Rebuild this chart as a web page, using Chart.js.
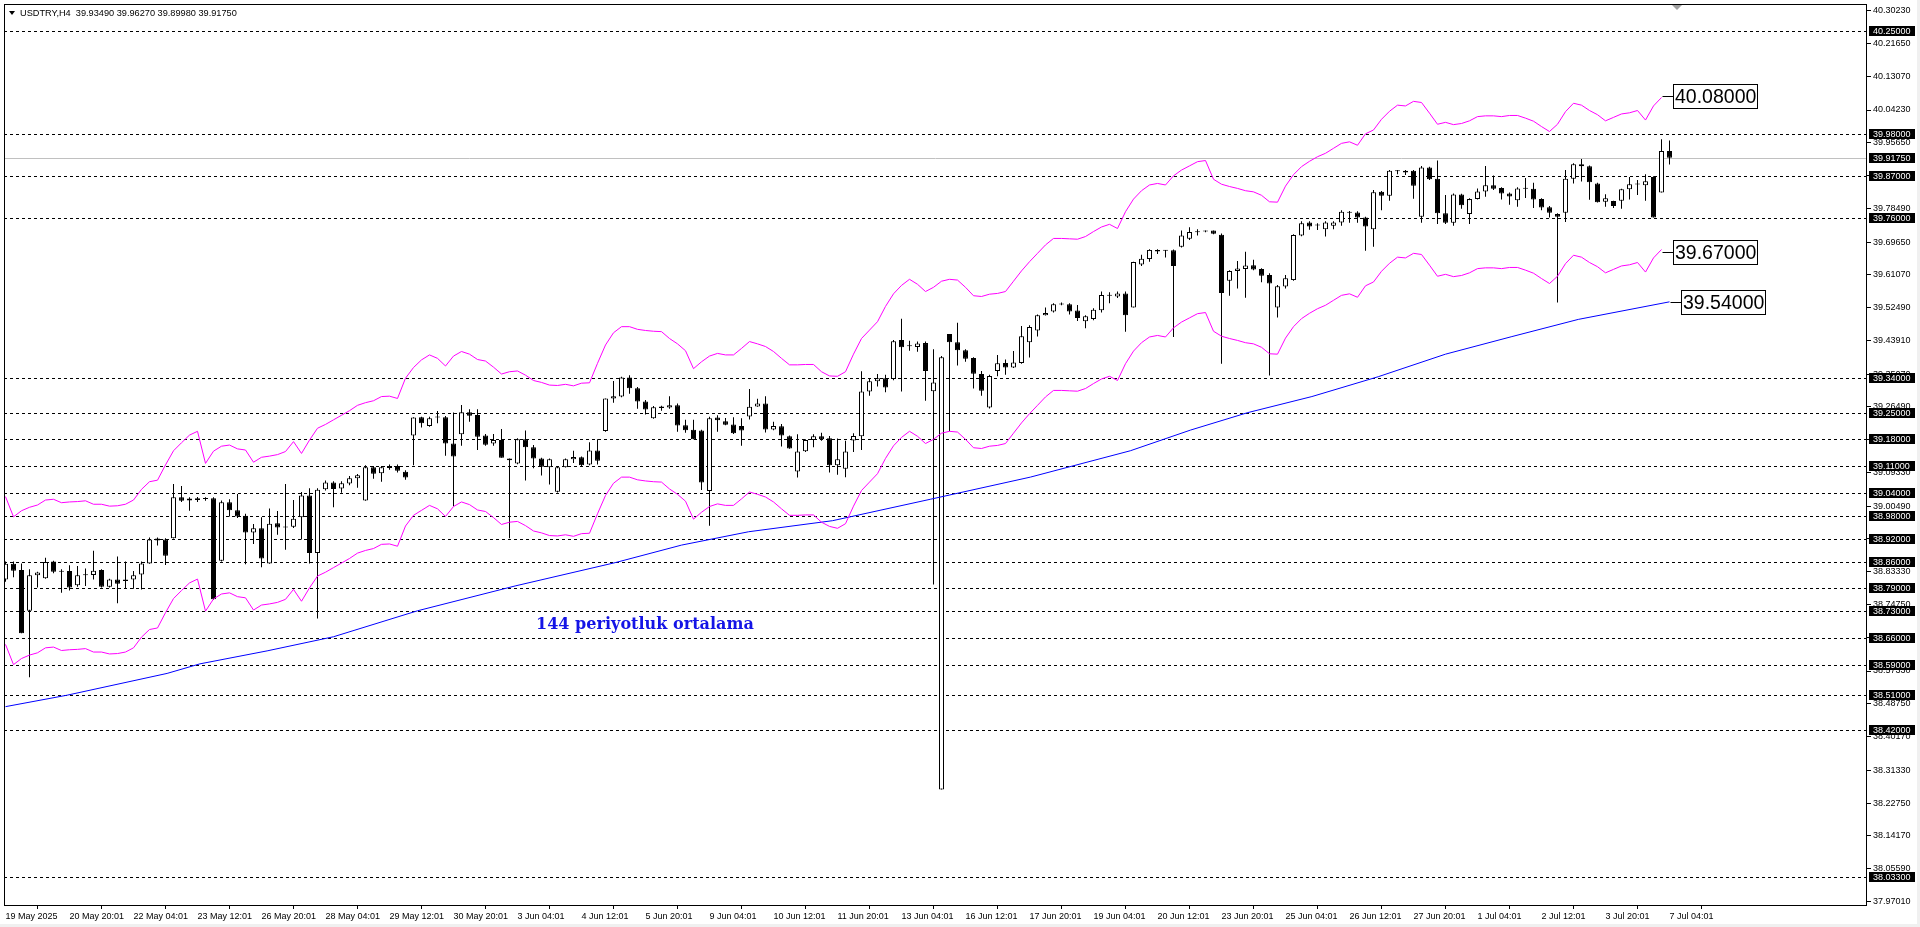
<!DOCTYPE html>
<html>
<head>
<meta charset="utf-8">
<title>USDTRY,H4</title>
<script src="https://cdn.jsdelivr.net/npm/chart.js@4.4.1/dist/chart.umd.min.js"></script>
<style>
  html, body { margin: 0; padding: 0; background: #fff; overflow: hidden; }
  #wrap { position: relative; width: 1920px; height: 927px; }
</style>
</head>
<body>
<div id="wrap"><canvas id="chart" width="1920" height="927"></canvas></div>
<script>
// USDTRY H4, 19 May 12:01 .. 7 Jul 04:01 (bar index 0..208)
const symbol = 'USDTRY,H4';

const xTickLabels = ['19 May 2025', '20 May 20:01', '22 May 04:01', '23 May 12:01', '26 May 20:01', '28 May 04:01',
    '29 May 12:01', '30 May 20:01', '3 Jun 04:01', '4 Jun 12:01', '5 Jun 20:01', '9 Jun 04:01', '10 Jun 12:01',
    '11 Jun 20:01', '13 Jun 04:01', '16 Jun 12:01', '17 Jun 20:01', '19 Jun 04:01', '20 Jun 12:01', '23 Jun 20:01',
    '25 Jun 04:01', '26 Jun 12:01', '27 Jun 20:01', '1 Jul 04:01', '2 Jul 12:01', '3 Jul 20:01', '7 Jul 04:01'];
const barsPerTick = 8;

const opens = [38.813, 38.854, 38.838, 38.731, 38.824, 38.816, 38.860, 38.835, 38.835, 38.798,
    38.824, 38.825, 38.838, 38.794, 38.813, 38.809, 38.813, 38.826, 38.855, 38.920,
    38.918, 38.921, 39.028, 39.025, 39.026, 39.024, 39.026, 38.862, 39.015, 38.994,
    38.980, 38.936, 38.947, 38.855, 38.960, 38.952, 38.951, 38.976, 39.033, 38.882,
    39.049, 39.067, 39.051, 39.064, 39.078, 39.020, 39.107, 39.091, 39.110, 39.110,
    39.095, 39.190, 39.238, 39.215, 39.237, 39.238, 39.169, 39.193, 39.251, 39.244,
    39.190, 39.169, 39.178, 39.130, 39.117, 39.180, 39.159, 39.130, 39.107, 39.043,
    39.107, 39.128, 39.133, 39.114, 39.151, 39.202, 39.287, 39.292, 39.342, 39.314,
    39.279, 39.235, 39.266, 39.263, 39.269, 39.217, 39.205, 39.203, 39.045, 39.237,
    39.227, 39.219, 39.215, 39.240, 39.266, 39.274, 39.206, 39.214, 39.188, 39.096,
    39.149, 39.178, 39.188, 39.183, 39.112, 39.103, 39.177, 39.188, 39.305, 39.332,
    39.340, 39.338, 39.440, 39.426, 39.422, 39.432, 39.306, 38.263, 39.456, 39.434,
    39.413, 39.393, 39.351, 39.263, 39.359, 39.380, 39.368, 39.380, 39.434, 39.465,
    39.505, 39.515, 39.533, 39.534, 39.517, 39.489, 39.495, 39.518, 39.558, 39.554,
    39.562, 39.525, 39.638, 39.652, 39.676, 39.675, 39.675, 39.684, 39.705, 39.724,
    39.726, 39.727, 39.716, 39.595, 39.621, 39.626, 39.636, 39.626, 39.610, 39.525,
    39.580, 39.597, 39.714, 39.748, 39.740, 39.730, 39.739, 39.748, 39.776, 39.774,
    39.761, 39.730, 39.828, 39.818, 39.882, 39.883, 39.883, 39.763, 39.892, 39.862,
    39.772, 39.747, 39.821, 39.770, 39.809, 39.829, 39.845, 39.838, 39.824, 39.806,
    39.837, 39.836, 39.809, 39.788, 39.770, 39.773, 39.862, 39.900, 39.895, 39.850,
    39.802, 39.804, 39.805, 39.835, 39.847, 39.845, 39.867, 39.826, 39.9349];

const highs = [38.860, 38.860, 38.855, 38.840, 38.833, 38.870, 38.862, 38.840, 38.850, 38.848,
    38.842, 38.888, 38.840, 38.815, 38.873, 38.860, 38.835, 38.860, 38.923, 38.923,
    38.921, 39.063, 39.058, 39.028, 39.029, 39.028, 39.028, 39.020, 39.023, 39.037,
    38.985, 38.958, 38.976, 38.999, 38.992, 39.063, 39.021, 39.042, 39.052, 39.052,
    39.072, 39.070, 39.070, 39.084, 39.089, 39.112, 39.110, 39.110, 39.114, 39.114,
    39.099, 39.238, 39.239, 39.239, 39.254, 39.241, 39.250, 39.270, 39.259, 39.259,
    39.194, 39.194, 39.207, 39.130, 39.183, 39.203, 39.165, 39.132, 39.130, 39.110,
    39.130, 39.150, 39.135, 39.172, 39.180, 39.287, 39.333, 39.344, 39.348, 39.317,
    39.283, 39.267, 39.268, 39.293, 39.274, 39.231, 39.231, 39.205, 39.239, 39.243,
    39.236, 39.238, 39.235, 39.312, 39.286, 39.293, 39.226, 39.220, 39.190, 39.193,
    39.180, 39.193, 39.197, 39.189, 39.182, 39.176, 39.196, 39.358, 39.338, 39.351,
    39.349, 39.440, 39.496, 39.438, 39.436, 39.436, 39.416, 39.398, 39.456, 39.485,
    39.416, 39.395, 39.359, 39.349, 39.401, 39.389, 39.411, 39.477, 39.479, 39.507,
    39.525, 39.536, 39.538, 39.536, 39.532, 39.505, 39.523, 39.567, 39.565, 39.567,
    39.567, 39.645, 39.663, 39.678, 39.678, 39.676, 39.677, 39.727, 39.735, 39.730,
    39.727, 39.727, 39.719, 39.623, 39.647, 39.671, 39.650, 39.628, 39.615, 39.584,
    39.610, 39.717, 39.751, 39.751, 39.746, 39.751, 39.751, 39.780, 39.778, 39.777,
    39.763, 39.833, 39.830, 39.885, 39.885, 39.885, 39.885, 39.896, 39.894, 39.910,
    39.820, 39.824, 39.823, 39.811, 39.837, 39.896, 39.871, 39.840, 39.826, 39.840,
    39.864, 39.852, 39.811, 39.791, 39.772, 39.885, 39.903, 39.914, 39.897, 39.852,
    39.822, 39.805, 39.836, 39.867, 39.859, 39.874, 39.869, 39.966, 39.9627];

const lows = [38.807, 38.819, 38.672, 38.557, 38.792, 38.815, 38.829, 38.778, 38.784, 38.794,
    38.796, 38.813, 38.792, 38.792, 38.751, 38.790, 38.789, 38.787, 38.854, 38.902,
    38.851, 38.920, 39.016, 38.993, 39.016, 39.019, 38.759, 38.860, 38.978, 38.974,
    38.853, 38.906, 38.845, 38.854, 38.930, 38.891, 38.948, 38.918, 38.855, 38.711,
    39.046, 39.002, 39.040, 39.060, 39.053, 39.019, 39.077, 39.069, 39.100, 39.093,
    39.074, 39.112, 39.211, 39.213, 39.222, 39.137, 39.005, 39.163, 39.226, 39.152,
    39.163, 39.163, 39.132, 38.921, 39.115, 39.072, 39.104, 39.085, 39.062, 39.041,
    39.106, 39.118, 39.108, 39.112, 39.114, 39.200, 39.276, 39.290, 39.299, 39.260,
    39.245, 39.234, 39.255, 39.260, 39.200, 39.197, 39.180, 39.047, 38.954, 39.200,
    39.217, 39.194, 39.163, 39.232, 39.265, 39.198, 39.204, 39.161, 39.155, 39.080,
    39.147, 39.159, 39.176, 39.093, 39.087, 39.081, 39.147, 39.152, 39.294, 39.318,
    39.303, 39.335, 39.305, 39.412, 39.409, 39.281, 38.800, 38.263, 39.201, 39.373,
    39.383, 39.313, 39.294, 39.261, 39.345, 39.349, 39.367, 39.378, 39.394, 39.449,
    39.504, 39.512, 39.531, 39.507, 39.490, 39.471, 39.492, 39.512, 39.536, 39.550,
    39.462, 39.525, 39.634, 39.645, 39.665, 39.656, 39.448, 39.682, 39.702, 39.714,
    39.722, 39.717, 39.378, 39.556, 39.575, 39.551, 39.623, 39.591, 39.347, 39.499,
    39.575, 39.595, 39.712, 39.729, 39.728, 39.711, 39.730, 39.739, 39.747, 39.747,
    39.674, 39.684, 39.780, 39.805, 39.874, 39.872, 39.810, 39.747, 39.859, 39.744,
    39.744, 39.739, 39.784, 39.744, 39.808, 39.815, 39.833, 39.808, 39.794, 39.789,
    39.812, 39.786, 39.780, 39.761, 39.538, 39.749, 39.850, 39.855, 39.807, 39.800,
    39.789, 39.786, 39.784, 39.808, 39.820, 39.805, 39.761, 39.826, 39.8998];

const closes = [38.854, 38.836, 38.672, 38.824, 38.831, 38.859, 38.833, 38.833, 38.792, 38.824,
    38.827, 38.836, 38.794, 38.813, 38.802, 38.813, 38.824, 38.855, 38.918, 38.915,
    38.875, 39.028, 39.019, 39.020, 39.021, 39.025, 38.761, 39.015, 38.994, 38.978,
    38.936, 38.947, 38.868, 38.959, 38.949, 38.949, 38.972, 39.033, 38.882, 39.048,
    39.067, 39.050, 39.065, 39.078, 39.086, 39.107, 39.090, 39.107, 39.105, 39.098,
    39.080, 39.237, 39.222, 39.235, 39.238, 39.169, 39.135, 39.251, 39.242, 39.187,
    39.166, 39.178, 39.132, 39.125, 39.180, 39.159, 39.130, 39.108, 39.128, 39.107,
    39.128, 39.134, 39.112, 39.151, 39.124, 39.287, 39.293, 39.342, 39.314, 39.279,
    39.258, 39.264, 39.262, 39.269, 39.216, 39.204, 39.180, 39.067, 39.235, 39.230,
    39.218, 39.196, 39.203, 39.265, 39.274, 39.206, 39.215, 39.190, 39.156, 39.148,
    39.178, 39.188, 39.180, 39.112, 39.128, 39.148, 39.189, 39.305, 39.332, 39.340,
    39.316, 39.437, 39.421, 39.424, 39.431, 39.359, 39.329, 39.395, 39.434, 39.413,
    39.391, 39.352, 39.307, 39.346, 39.379, 39.368, 39.381, 39.450, 39.474, 39.505,
    39.511, 39.534, 39.534, 39.515, 39.498, 39.502, 39.519, 39.558, 39.556, 39.562,
    39.505, 39.644, 39.653, 39.676, 39.672, 39.674, 39.634, 39.714, 39.723, 39.722,
    39.724, 39.718, 39.563, 39.621, 39.627, 39.635, 39.625, 39.608, 39.588, 39.581,
    39.602, 39.715, 39.746, 39.737, 39.742, 39.748, 39.748, 39.776, 39.773, 39.761,
    39.737, 39.827, 39.818, 39.883, 39.883, 39.879, 39.844, 39.892, 39.861, 39.772,
    39.747, 39.821, 39.793, 39.809, 39.829, 39.845, 39.836, 39.824, 39.816, 39.837,
    39.836, 39.808, 39.787, 39.773, 39.763, 39.862, 39.900, 39.895, 39.853, 39.801,
    39.811, 39.791, 39.835, 39.848, 39.848, 39.856, 39.761, 39.935, 39.9175];

// envelope bands, one value per bar 0..207
const envUpper = [39.030, 38.977, 38.993, 39.002, 39.008, 39.021, 39.023, 39.014, 39.016, 39.017,
    39.019, 39.010, 39.010, 39.005, 39.006, 39.010, 39.021, 39.049, 39.069, 39.073,
    39.113, 39.150, 39.171, 39.191, 39.201, 39.117, 39.149, 39.162, 39.165, 39.155,
    39.152, 39.120, 39.133, 39.136, 39.140, 39.148, 39.174, 39.143, 39.178, 39.209,
    39.219, 39.231, 39.243, 39.255, 39.269, 39.276, 39.281, 39.292, 39.293, 39.287,
    39.340, 39.368, 39.388, 39.401, 39.392, 39.372, 39.398, 39.410, 39.403, 39.389,
    39.385, 39.369, 39.351, 39.357, 39.359, 39.348, 39.334, 39.329, 39.322, 39.321,
    39.324, 39.320, 39.327, 39.328, 39.379, 39.427, 39.459, 39.475, 39.475, 39.468,
    39.465, 39.463, 39.462, 39.444, 39.430, 39.412, 39.365, 39.383, 39.398, 39.405,
    39.401, 39.401, 39.418, 39.436, 39.430, 39.423, 39.410, 39.392, 39.375, 39.375,
    39.376, 39.376, 39.357, 39.346, 39.345, 39.357, 39.403, 39.444, 39.466, 39.488,
    39.528, 39.561, 39.583, 39.599, 39.586, 39.567, 39.578, 39.594, 39.599, 39.597,
    39.578, 39.556, 39.554, 39.560, 39.562, 39.567, 39.594, 39.621, 39.645, 39.667,
    39.689, 39.706, 39.706, 39.705, 39.704, 39.711, 39.724, 39.736, 39.743, 39.732,
    39.776, 39.809, 39.831, 39.846, 39.850, 39.846, 39.870, 39.885, 39.896, 39.907,
    39.910, 39.861, 39.848, 39.842, 39.837, 39.831, 39.828, 39.819, 39.802, 39.801,
    39.843, 39.873, 39.894, 39.908, 39.920, 39.929, 39.942, 39.955, 39.959, 39.950,
    39.980, 39.990, 40.018, 40.039, 40.055, 40.053, 40.065, 40.062, 40.034, 40.005,
    40.010, 40.004, 40.007, 40.014, 40.025, 40.027, 40.027, 40.025, 40.028, 40.028,
    40.021, 40.013, 39.999, 39.986, 40.005, 40.038, 40.060, 40.055, 40.041, 40.030,
    40.014, 40.023, 40.032, 40.035, 40.041, 40.016, 40.053, 40.075];

const envLower = [38.643, 38.590, 38.606, 38.615, 38.621, 38.634, 38.636, 38.627, 38.629, 38.630,
    38.632, 38.623, 38.623, 38.618, 38.619, 38.623, 38.634, 38.662, 38.682, 38.686,
    38.726, 38.763, 38.784, 38.804, 38.814, 38.730, 38.762, 38.775, 38.778, 38.768,
    38.765, 38.733, 38.746, 38.749, 38.753, 38.761, 38.787, 38.756, 38.791, 38.822,
    38.832, 38.844, 38.856, 38.868, 38.882, 38.889, 38.894, 38.905, 38.906, 38.900,
    38.953, 38.981, 38.994, 39.007, 38.998, 38.978, 39.004, 39.016, 39.009, 38.995,
    38.991, 38.975, 38.957, 38.963, 38.965, 38.954, 38.940, 38.935, 38.928, 38.927,
    38.930, 38.926, 38.933, 38.934, 38.985, 39.033, 39.065, 39.081, 39.081, 39.074,
    39.071, 39.069, 39.068, 39.050, 39.036, 39.018, 38.971, 38.989, 39.004, 39.011,
    39.007, 39.007, 39.024, 39.042, 39.036, 39.029, 39.016, 38.998, 38.981, 38.981,
    38.982, 38.982, 38.963, 38.952, 38.947, 38.959, 39.005, 39.046, 39.068, 39.090,
    39.130, 39.163, 39.185, 39.201, 39.188, 39.169, 39.180, 39.196, 39.201, 39.199,
    39.180, 39.158, 39.156, 39.162, 39.164, 39.169, 39.196, 39.223, 39.247, 39.269,
    39.291, 39.308, 39.308, 39.307, 39.306, 39.313, 39.326, 39.338, 39.345, 39.334,
    39.378, 39.411, 39.433, 39.448, 39.452, 39.448, 39.472, 39.487, 39.498, 39.509,
    39.512, 39.463, 39.450, 39.444, 39.439, 39.433, 39.430, 39.421, 39.404, 39.403,
    39.445, 39.475, 39.496, 39.510, 39.522, 39.531, 39.544, 39.557, 39.561, 39.552,
    39.582, 39.592, 39.620, 39.641, 39.657, 39.655, 39.667, 39.664, 39.636, 39.607,
    39.612, 39.606, 39.609, 39.616, 39.627, 39.629, 39.629, 39.627, 39.630, 39.630,
    39.623, 39.615, 39.601, 39.588, 39.607, 39.640, 39.662, 39.657, 39.643, 39.632,
    39.616, 39.625, 39.634, 39.637, 39.643, 39.618, 39.655, 39.677];

// 144 period moving average, read at these bars
const maBars = [0, 7.7, 20.2, 24.3, 32.7, 41, 51.5, 63.7, 76.2, 84.5, 92.9, 103.4,
    115.6, 128.1, 140.6, 148.1, 155.3, 163.3, 171.6, 180, 188.3, 196.6, 208];
const maValues = [38.480, 38.510, 38.567, 38.592, 38.626, 38.663, 38.731, 38.796, 38.857, 38.903, 38.938, 38.967,
    39.023, 39.081, 39.150, 39.204, 39.250, 39.292, 39.344, 39.403, 39.449, 39.494, 39.540];

const levelLines = [40.25, 39.98, 39.87, 39.76, 39.34, 39.25, 39.18, 39.11, 39.04, 38.98,
    38.92, 38.86, 38.79, 38.73, 38.66, 38.59, 38.51, 38.42, 38.033];
const lastPrice = 39.9175;
const yTickValues = [40.3023, 40.2165, 40.1307, 40.0423, 39.9565, 39.8707, 39.7849, 39.6965, 39.6107,
    39.5249, 39.4391, 39.3507, 39.2649, 39.1791, 39.0933, 39.0049, 38.9191, 38.8333, 38.7475,
    38.6617, 38.5733, 38.4875, 38.4017, 38.3133, 38.2275, 38.1417, 38.0559, 37.9701];
const upperLabel = 40.08;
const lowerLabel = 39.67;
const maLabel = 39.54;
const maText = '144 periyotluk ortalama';

const FONT = '"Liberation Sans", Arial, sans-serif';
Chart.defaults.font.family = FONT;
Chart.defaults.font.size = 9;
Chart.defaults.color = '#000';

const barIdx = opens.map((_, i) => i);

const overlay = {
    id: 'overlay',
    beforeDatasetsDraw(chart) {
        const { ctx, chartArea: a, scales: { y } } = chart;
        ctx.save();
        ctx.beginPath();
        ctx.rect(a.left, a.top, a.right - a.left, a.bottom - a.top);
        ctx.clip();
        ctx.lineWidth = 1;
        const py = Math.round(y.getPixelForValue(lastPrice)) + 0.5;
        ctx.strokeStyle = '#c0c0c0';
        ctx.beginPath(); ctx.moveTo(a.left, py); ctx.lineTo(a.right, py); ctx.stroke();
        ctx.strokeStyle = '#000';
        ctx.setLineDash([3, 3]);
        levelLines.forEach(v => {
            const yy = Math.round(y.getPixelForValue(v)) + 0.5;
            ctx.beginPath(); ctx.moveTo(a.left, yy); ctx.lineTo(a.right, yy); ctx.stroke();
        });
        ctx.restore();
    },
    afterDraw(chart) {
        const { ctx, chartArea: a, scales: { x, y } } = chart;
        ctx.save();
        // window edges
        ctx.fillStyle = '#f0f0f0';
        ctx.fillRect(1917, 0, 3, 927);
        ctx.fillRect(0, 924, 1920, 3);
        // frame
        ctx.strokeStyle = '#000';
        ctx.lineWidth = 1;
        ctx.strokeRect(a.left + 0.5, a.top + 0.5, a.right - a.left - 1, a.bottom - a.top);

        // shift marker
        ctx.fillStyle = '#a0a0a0';
        ctx.beginPath(); ctx.moveTo(1672, a.top + 1); ctx.lineTo(1682, a.top + 1); ctx.lineTo(1677, a.top + 6); ctx.fill();

        // header
        ctx.fillStyle = '#000';
        ctx.beginPath(); ctx.moveTo(9, 11); ctx.lineTo(15, 11); ctx.lineTo(12, 15); ctx.fill();
        const n = opens.length - 1;
        ctx.font = '9.2px ' + FONT;
        ctx.textBaseline = 'middle';
        ctx.textAlign = 'left';
        ctx.fillText(`${symbol}  ${opens[n].toFixed(5)} ${highs[n].toFixed(5)} ${lows[n].toFixed(5)} ${closes[n].toFixed(5)}`, 20, 13.5);

        // price boxes on the axis
        ctx.font = '9px ' + FONT;
        [...levelLines, lastPrice].forEach(v => {
            const yy = Math.round(y.getPixelForValue(v));
            ctx.fillStyle = '#000';
            ctx.fillRect(a.right + 2, yy - 5, 46, 10);
            ctx.fillStyle = '#fff';
            ctx.fillText(v.toFixed(5), a.right + 6, yy + 0.5);
        });

        // end-of-line value boxes
        const boxes = [
            { v: upperLabel, bar: envUpper.length - 1 },
            { v: lowerLabel, bar: envLower.length - 1 },
            { v: maLabel, bar: maBars[maBars.length - 1] }
        ];
        ctx.font = '19.5px ' + FONT;
        boxes.forEach(b => {
            const ex = Math.round(x.getPixelForValue(b.bar)) + 0.5;
            const yy = Math.round(y.getPixelForValue(b.v)) + 0.5;
            const bx = ex + 11;
            ctx.strokeStyle = '#000';
            ctx.beginPath(); ctx.moveTo(ex, yy); ctx.lineTo(bx, yy); ctx.stroke();
            ctx.fillStyle = '#fff';
            ctx.fillRect(bx, yy - 12, 84, 24);
            ctx.strokeRect(bx, yy - 12, 84, 24);
            ctx.fillStyle = '#000';
            ctx.fillText(b.v.toFixed(5), bx + 1.5, yy + 1);
        });

        // MA caption
        ctx.fillStyle = '#1414e6';
        ctx.font = 'bold 16px "DejaVu Serif", serif';
        const w = ctx.measureText(maText).width;
        const size = 16 * 218 / w;
        ctx.font = `bold ${size.toFixed(2)}px "DejaVu Serif", serif`;
        ctx.fillText(maText, 536, 624.5);
        ctx.restore();
    }
};

new Chart(document.getElementById('chart'), {
    type: 'bar',
    data: {
        datasets: [
            {
                type: 'line', label: 'Envelope upper',
                data: envUpper.map((v, i) => ({ x: i, y: v })),
                borderColor: '#ff00ff', borderWidth: 1, pointRadius: 0, tension: 0, clip: 0
            },
            {
                type: 'line', label: 'Envelope lower',
                data: envLower.map((v, i) => ({ x: i, y: v })),
                borderColor: '#ff00ff', borderWidth: 1, pointRadius: 0, tension: 0, clip: 0
            },
            {
                type: 'line', label: 'MA 144',
                data: maBars.map((b, k) => ({ x: b, y: maValues[k] })),
                borderColor: '#0000ff', borderWidth: 1, pointRadius: 0, tension: 0, clip: 0
            },
            {
                label: 'Bodies',
                data: barIdx.map(i => ({ x: i, y: [opens[i], closes[i]] })),
                backgroundColor: barIdx.map(i => closes[i] >= opens[i] ? '#ffffff' : '#000000'),
                borderColor: '#000000', borderWidth: 1, borderSkipped: false,
                grouped: false, maxBarThickness: 5, barPercentage: 1, categoryPercentage: 1,
                minBarLength: 1, inflateAmount: 0, clip: 0
            },
            {
                label: 'Wicks',
                data: barIdx.map(i => ({ x: i, y: [lows[i], highs[i]] })),
                backgroundColor: '#000000', borderWidth: 0,
                grouped: false, maxBarThickness: 1, barPercentage: 1, categoryPercentage: 1,
                inflateAmount: 0, clip: 0
            }
        ]
    },
    options: {
        responsive: false,
        animation: false,
        devicePixelRatio: 1,
        layout: { padding: { left: 4, top: 4, right: 0, bottom: 0 } },
        plugins: { legend: { display: false }, tooltip: { enabled: false } },
        scales: {
            x: {
                type: 'linear', position: 'bottom', offset: false,
                min: -0.1875, max: 232.6875,
                border: { display: false },
                grid: { drawOnChartArea: false, drawTicks: true, tickLength: 4, tickColor: '#000' },
                ticks: {
                    autoSkip: false, maxRotation: 0, minRotation: 0, align: 'start', padding: 2,
                    font: { size: 9 }, color: '#000',
                    callback: v => xTickLabels[v / barsPerTick] ?? ''
                },
                afterBuildTicks: s => { s.ticks = xTickLabels.map((_, k) => ({ value: k * barsPerTick })); },
                afterFit: s => { s.height = 22; s.paddingLeft = 0; s.paddingRight = 0; }
            },
            y: {
                type: 'linear', position: 'right', offset: false,
                min: 37.9606, max: 40.3199,
                border: { display: false },
                grid: { drawOnChartArea: false, drawTicks: true, tickLength: 4, tickColor: '#000' },
                ticks: {
                    autoSkip: false, padding: 2, font: { size: 9 }, color: '#000',
                    callback: v => Number(v).toFixed(5)
                },
                afterBuildTicks: s => { s.ticks = yTickValues.map(v => ({ value: v })); },
                afterFit: s => { s.width = 53; s.paddingTop = 0; s.paddingBottom = 0; }
            }
        }
    },
    plugins: [overlay]
});
</script>
</body>
</html>
